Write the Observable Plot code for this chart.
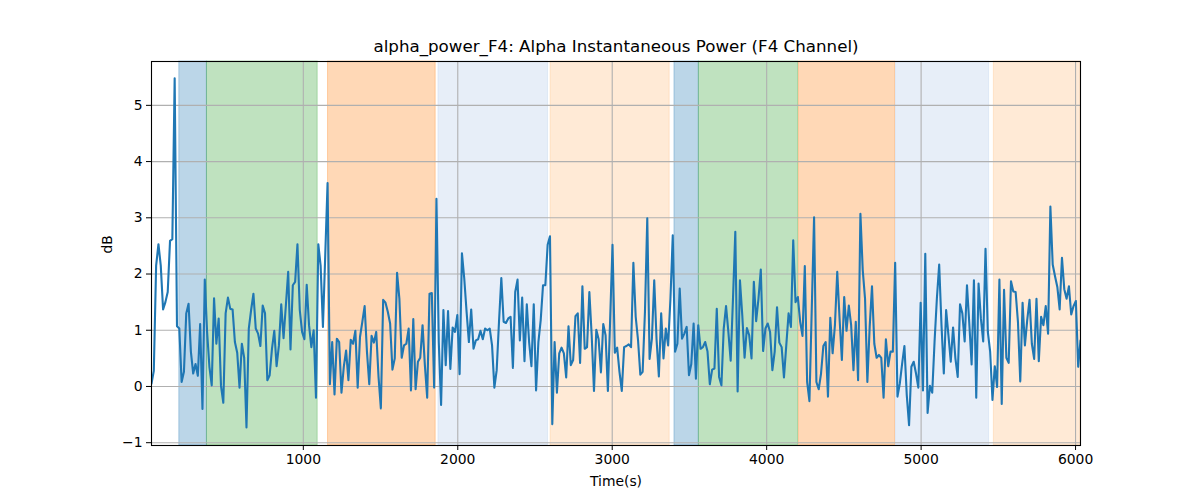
<!DOCTYPE html>
<html>
<head>
<meta charset="utf-8">
<script src="https://cdn.jsdelivr.net/npm/d3@7"></script>
<script src="https://cdn.jsdelivr.net/npm/@observablehq/plot@0.6"></script>
<style>
  html, body { margin: 0; padding: 0; background: white; }
  #chart { width: 1200px; height: 500px; }
</style>
</head>
<body>
<div id="chart"></div>
<script>
const title = "alpha_power_F4: Alpha Instantaneous Power (F4 Channel)";
const xLabel = "Time(s)";
const yLabel = "dB";
const xTicks = [1000, 2000, 3000, 4000, 5000, 6000];
const yTicks = [-1, 0, 1, 2, 3, 4, 5];

const times = [
17,32,47,62,77,92,107,122,137,152,
167,182,197,212,227,242,257,272,287,302,
317,332,347,362,377,392,407,422,437,452,
467,482,497,512,527,542,557,572,587,602,
617,632,647,662,677,692,707,722,737,752,
767,782,797,812,827,842,857,872,887,902,
917,932,947,962,977,992,1007,1022,1037,1052,
1067,1082,1097,1112,1127,1142,1157,1172,1187,1202,
1217,1232,1247,1262,1277,1292,1307,1322,1337,1352,
1367,1382,1397,1412,1427,1442,1457,1472,1487,1502,
1517,1532,1547,1562,1577,1592,1607,1622,1637,1652,
1667,1682,1697,1712,1727,1742,1757,1772,1787,1802,
1817,1832,1847,1862,1877,1892,1907,1922,1937,1952,
1967,1982,1997,2012,2027,2042,2057,2072,2087,2102,
2117,2132,2147,2162,2177,2192,2207,2222,2237,2252,
2267,2282,2297,2312,2327,2342,2357,2372,2387,2402,
2417,2432,2447,2462,2477,2492,2507,2522,2537,2552,
2567,2582,2597,2612,2627,2642,2657,2672,2687,2702,
2717,2732,2747,2762,2777,2792,2807,2822,2837,2852,
2867,2882,2897,2912,2927,2942,2957,2972,2987,3002,
3017,3032,3047,3062,3077,3092,3107,3122,3137,3152,
3167,3182,3197,3212,3227,3242,3257,3272,3287,3302,
3317,3332,3347,3362,3377,3392,3407,3422,3437,3452,
3467,3482,3497,3512,3527,3542,3557,3572,3587,3602,
3617,3632,3647,3662,3677,3692,3707,3722,3737,3752,
3767,3782,3797,3812,3827,3842,3857,3872,3887,3902,
3917,3932,3947,3962,3977,3992,4007,4022,4037,4052,
4067,4082,4097,4112,4127,4142,4157,4172,4187,4202,
4217,4232,4247,4262,4277,4292,4307,4322,4337,4352,
4367,4382,4397,4412,4427,4442,4457,4472,4487,4502,
4517,4532,4547,4562,4577,4592,4607,4622,4637,4652,
4667,4682,4697,4712,4727,4742,4757,4772,4787,4802,
4817,4832,4847,4862,4877,4892,4907,4922,4937,4952,
4967,4982,4997,5012,5027,5042,5057,5072,5087,5102,
5117,5132,5147,5162,5177,5192,5207,5222,5237,5252,
5267,5282,5297,5312,5327,5342,5357,5372,5387,5402,
5417,5432,5447,5462,5477,5492,5507,5522,5537,5552,
5567,5582,5597,5612,5627,5642,5657,5672,5687,5702,
5717,5732,5747,5762,5777,5792,5807,5822,5837,5852,
5867,5882,5897,5912,5927,5942,5957,5972,5987,6002,
6017,6032
];

const values = [
0.05, 0.28, 2.15, 2.53, 2.15, 1.37, 1.50, 1.68, 2.59, 2.62,
5.48, 1.07, 1.03, 0.08, 0.26, 1.30, 1.47, 0.62, 0.23, 0.40,
0.19, 1.11, -0.40, 1.90, 0.97, 0.35, 0.02, 1.57, 0.76, 1.21,
0.01, -0.29, 1.30, 1.58, 1.38, 1.37, 0.79, 0.60, -0.02, 0.76,
0.51, -0.73, 1.03, 1.36, 1.65, 1.03, 0.94, 0.72, 1.44, 1.30,
0.11,
0.20, 0.67, 0.99, 0.36, 0.73, 1.46, 0.86, 1.44, 2.04, 0.66,
1.80, 1.86, 2.53, 1.36, 0.97, 0.84, 1.81, 1.09, 0.70, 1.00,
-0.20, 2.53, 2.15, 1.06, 2.34, 3.62, 0.04, 0.79, -0.14, 0.85,
0.79, -0.11, 0.35, 0.64, 0.11, 0.83, 0.76, 0.99, -0.02, 0.88,
1.15, 1.43, 0.62, 0.04, 0.90, 0.78, 0.97, 0.17, -0.39, 1.54,
1.49, 1.33, 1.12, 0.30, 0.50, 2.02, 1.56, 0.51, 0.73, 0.76,
1.03, -0.07, 1.20, -0.05, 0.44, 0.51, 1.09, 0.38, -0.20, 1.65,
1.66, -0.02, 3.34, 0.79, -0.33, 1.36, 0.38, 1.34, 0.31, 1.05,
0.97, 1.27, 0.22, 2.37, 1.92, 1.33, 0.79, 1.37, 0.67, 0.82,
0.84, 0.99, 0.84, 1.03, 1.00, 1.03, 0.73, -0.02, 0.29, 1.15,
1.93,
1.15, 1.13, 1.21, 1.24, 0.33, 1.68, 1.90, 0.82, 1.58, 0.45,
1.46, 0.79, 0.36, 1.46, -0.07, 0.79, 1.18, 1.80, 1.80, 2.52,
2.67, -0.67, 0.79, -0.11, 0.59, 0.69, 0.59, 0.16, 1.07, 0.38,
0.47, 1.25, 1.30, 0.42, 1.78, 0.67, 0.70, 1.68, 0.91, -0.08,
1.01, 0.84, 0.25, 1.11, 0.91, -0.08, 1.22, 2.52, 0.60, 0.69,
0.26,
-0.08, 0.70, 0.72, 0.75, 0.70, 2.20, 1.24, 0.83, 0.21, 0.26,
1.33, 2.99, 0.49, 0.85, 1.89, 0.84, 0.18, 1.30, 0.50, 1.03,
0.73, 1.56, 2.69, 0.62, 0.76, 1.74, 0.85, 0.94, 1.06, 0.20,
0.40, 1.12, 0.14, 1.09, 0.67, 0.70, 0.79, 0.62, 0.04, 0.30,
0.32, 1.38, 0.17, 0.02, 1.03, 1.43, 0.97, 0.46, 1.56, 2.75,
-0.09, 1.89, 1.27, 0.51, 1.04, 0.91, 0.50, 1.86, 1.16, 1.56,
2.08, 0.63, 1.03, 1.12, 0.97, 0.29, 0.62, 1.41, 0.78, 0.70,
0.16, 0.73, 1.30, 1.06, 2.60, 1.50, 1.59, 1.15, 0.90, 2.14,
0.08, -0.26, 1.38, 3.01, 0.08, -0.05, 0.23, 0.72, 0.79, -0.18,
1.22, 0.59, 1.09, 2.04, 1.21, 0.47, 1.59, 0.99, 1.44, 1.09,
0.29,
1.15, 0.11, 3.07, 2.07, 1.56, 0.08, 1.06, 1.78, 0.76, 0.51,
0.56, 0.51, -0.20, 0.84, 0.36, 0.62, 0.62, 2.20, -0.18, 0.05,
0.40, 0.72, -0.15, -0.69, 0.35, 0.44, 0.23, -0.02, 1.49, -0.07,
2.36, -0.47, 0.01, -0.11, 0.79, 1.56, 2.17, 1.09, 0.23, 1.36,
0.91, 0.44, 1.05, 0.50, 0.17, 1.46, 1.30, 0.80, 1.80, 1.12,
0.39, 1.89, -0.20, 1.83, 1.21, 0.80, 2.45, 0.97, 0.62, -0.24,
0.36, -0.01, 1.90, -0.31, 1.72, 0.51, 0.42, 1.87, 1.69, 1.68,
1.15, 0.09, 1.49, 0.73, 1.18, 1.54, 0.76, 0.49, 1.56, 0.45,
1.24, 1.09, 1.43, 0.94, 3.20, 2.17, 1.96, 1.77, 1.37, 2.29,
1.73, 1.56, 1.78, 1.28, 1.43, 1.52, 0.35, 0.82
];

const bandStart = [197, 376, 1160, 1875, 2601, 3403, 3561, 4209, 4836, 5471];
const bandEnd   = [376, 1093, 1857, 2584, 3372, 3561, 4203, 4831, 5440, 6032];
const bandColor = ["#1f77b4", "#2ca02c", "#ff7f0e", "#aec7e8", "#ffbb78",
                   "#1f77b4", "#2ca02c", "#ff7f0e", "#aec7e8", "#ffbb78"];

const n = Math.min(times.length, values.length);
const data = [];
for (let i = 0; i < n; i++) data.push({t: times[i], v: values[i]});
const bands = bandStart.map((s, i) => ({s, e: bandEnd[i], c: bandColor[i]}));

const chart = Plot.plot({
  width: 1200,
  height: 500,
  marginLeft: 151,
  marginRight: 120,
  marginTop: 61,
  marginBottom: 55,
  style: {fontFamily: "DejaVu Sans", fontSize: "13.9px", background: "white", color: "black"},
  x: {domain: d3.extent(times)},
  y: {domain: [-1.05, 5.78]},
  color: {type: "identity"},
  marks: [
    Plot.rect(bands, {x1: "s", x2: "e", fill: "c", fillOpacity: 0.3, stroke: "c", strokeOpacity: 0.3, strokeWidth: 1}),
    Plot.gridX(xTicks, {stroke: "#b0b0b0", strokeOpacity: 1, strokeWidth: 1.1}),
    Plot.gridY(yTicks, {stroke: "#b0b0b0", strokeOpacity: 1, strokeWidth: 1.1}),
    Plot.line(data, {x: "t", y: "v", stroke: "#1f77b4", strokeWidth: 2.1, clip: true}),
    Plot.frame({stroke: "black", strokeWidth: 1.1}),
    Plot.axisX(xTicks, {tickSize: 5, tickPadding: 4, label: null, tickFormat: d => String(d)}),
    Plot.axisY(yTicks, {tickSize: 5, tickPadding: 4, label: null, tickFormat: d => d < 0 ? "\u2212" + Math.abs(d) : String(d)}),
    Plot.text([title], {frameAnchor: "top", lineAnchor: "middle", dy: -15, fontSize: 16.7}),
    Plot.text([xLabel], {frameAnchor: "bottom", lineAnchor: "middle", dy: 36, fontSize: 13.9}),
    Plot.text([yLabel], {frameAnchor: "left", lineAnchor: "middle", dx: -44, rotate: -90, fontSize: 13.9})
  ]
});
document.getElementById("chart").appendChild(chart);
</script>
</body>
</html>
